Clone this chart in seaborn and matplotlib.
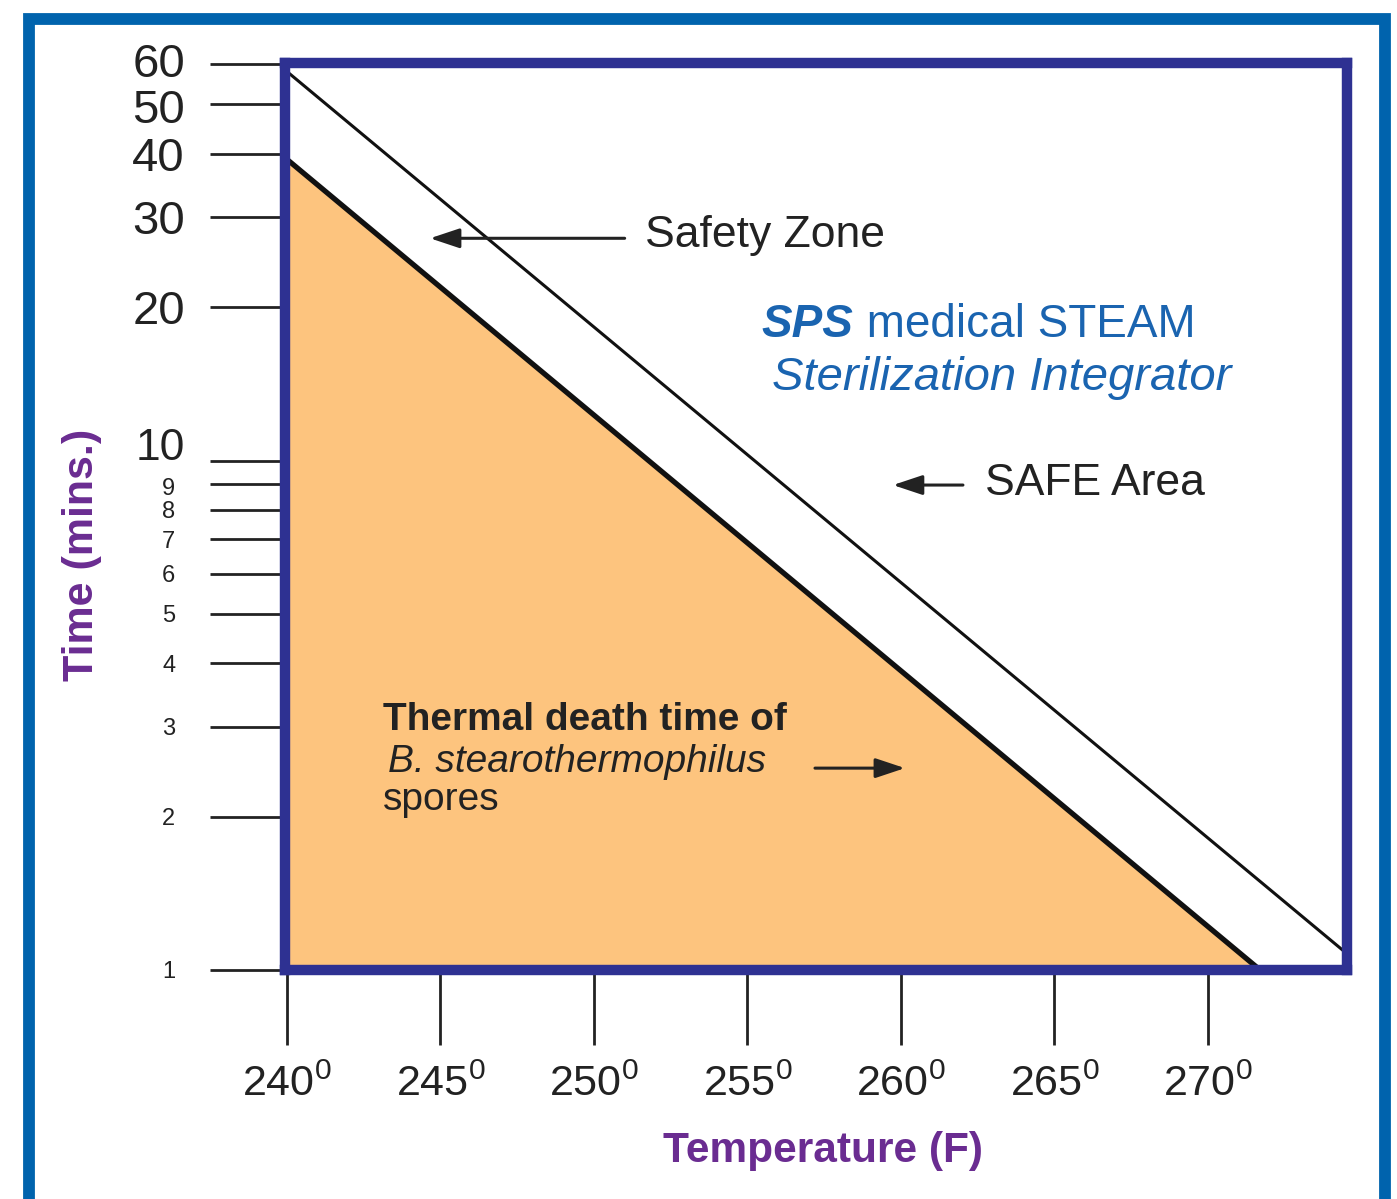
import matplotlib
matplotlib.use("Agg")
import matplotlib.pyplot as plt
import matplotlib.patches as mpatches
import matplotlib.transforms as mtransforms
from matplotlib import font_manager
from matplotlib.ticker import FixedLocator, FixedFormatter, NullFormatter
import pandas as pd
import seaborn as sns

# straight lines on the log chart
temps_safe = [240.0, 274.5]
times_safe = [58.0, 1.08]
temps_tdt = [240.0, 271.7]
times_tdt = [39.0, 1.0]

x_ticks = [240, 245, 250, 255, 260, 265, 270]
y_major = [10, 20, 30, 40, 50, 60]
y_minor = [1, 2, 3, 4, 5, 6, 7, 8, 9]

ORANGE = "#fdc47e"
INDIGO = "#2e3192"
FRAME = "#0063ad"
PURPLE = "#6a2c91"
BLUE = "#1a64b0"
INK = "#222222"

sns.set_style("white")
fonts = {f.name for f in font_manager.fontManager.ttflist}
narrow = "Liberation Sans Narrow" if "Liberation Sans Narrow" in fonts else "Liberation Sans"
plt.rcParams["font.family"] = ["Liberation Sans", "DejaVu Sans"]
plt.rcParams["mathtext.fontset"] = "custom"
plt.rcParams["mathtext.rm"] = narrow
plt.rcParams["mathtext.it"] = narrow + ":italic"
plt.rcParams["mathtext.bf"] = narrow + ":bold"

safe_df = pd.DataFrame({"Temperature": temps_safe, "Time": times_safe})
tdt_df = pd.DataFrame({"Temperature": temps_tdt, "Time": times_tdt})

fig = plt.figure(figsize=(13.97, 11.99), dpi=100)
ax = fig.add_axes([0.2040, 0.1910, 0.7602, 0.7565])
ax.set_yscale("log")

ax.fill_between(tdt_df["Temperature"], tdt_df["Time"], 1, color=ORANGE, linewidth=0, zorder=1)
sns.lineplot(data=tdt_df, x="Temperature", y="Time", sort=False, color="#111111",
             linewidth=3.8, ax=ax, legend=False)
sns.lineplot(data=safe_df, x="Temperature", y="Time", sort=False, color="#111111",
             linewidth=2.2, ax=ax, legend=False)

ax.set_xlim(239.935, 274.53)
ax.set_ylim(1, 60.3)

for side in ["left", "right", "top", "bottom"]:
    ax.spines[side].set_color(INDIGO)
    ax.spines[side].set_linewidth(7.5)

# axis ticks
ax.xaxis.set_major_locator(FixedLocator(x_ticks))
ax.xaxis.set_major_formatter(FixedFormatter([rf"{t}$^{{0}}$" for t in x_ticks]))
ax.xaxis.set_minor_formatter(NullFormatter())
ax.yaxis.set_major_locator(FixedLocator(y_major))
ax.yaxis.set_major_formatter(FixedFormatter([str(v) for v in y_major]))
ax.yaxis.set_minor_locator(FixedLocator(y_minor))
ax.yaxis.set_minor_formatter(FixedFormatter([str(v) for v in y_minor]))

ax.tick_params(axis="x", which="major", bottom=True, direction="out", length=54, width=2,
               color=INK, pad=14, labelsize=31, labelcolor=INK)
ax.tick_params(axis="x", which="minor", bottom=False, length=0)
ax.tick_params(axis="y", which="major", left=True, direction="out", length=54, width=2,
               color=INK, pad=18, labelsize=34, labelcolor=INK)
ax.tick_params(axis="y", which="minor", left=True, direction="out", length=54, width=2,
               color=INK, pad=25, labelsize=17, labelcolor=INK)
for lab in ax.get_xticklabels():
    lab.set_family([narrow, "Liberation Sans", "DejaVu Sans"])

# nudge the crowded labels apart a little
nudges = {"10": 17, "60": 4, "50": -2, "9": -3}
for lab in ax.get_yticklabels() + ax.get_yticklabels(minor=True):
    dy = nudges.get(lab.get_text(), 0)
    if dy:
        lab.set_transform(lab.get_transform() +
                          mtransforms.ScaledTranslation(0, dy / 100, fig.dpi_scale_trans))
    if lab.get_text() == "10":
        lab.set_fontsize(32)

ax.set_xlabel("Temperature (F)", fontsize=30.5, fontweight="bold", color=PURPLE,
              family=[narrow, "Liberation Sans"])
ax.set_ylabel("Time (mins.)", fontsize=31, fontweight="bold", color=PURPLE,
              family=[narrow, "Liberation Sans"])
ax.xaxis.set_label_coords(0.507, -0.178)
ax.yaxis.set_label_coords(-0.172, 0.4576)

# annotations
arrow = dict(arrowstyle="-|>,head_length=0.9,head_width=0.3", color=INK, lw=2.2,
             mutation_scale=20, shrinkA=0, shrinkB=0)
ax.annotate("", xy=(244.66, 27.3), xytext=(251.0, 27.3), arrowprops=arrow)
ax.text(251.66, 27.7, "Safety Zone", fontsize=32, color=INK, va="center", ha="left")

t1 = ax.text(255.47, 18.45, "SPS", fontsize=33, color=BLUE, fontweight="bold",
             fontstyle="italic", va="center", ha="left")
ax.annotate(" medical STEAM", xy=(1, 0.5), xycoords=t1, fontsize=33, color=BLUE,
            va="center", ha="left")
ax.text(255.80, 14.52, "Sterilization Integrator", fontsize=34, color=BLUE,
        fontstyle="italic", va="center", ha="left")

ax.annotate("", xy=(259.74, 8.95), xytext=(262.02, 8.95), arrowprops=arrow)
ax.text(262.74, 9.03, "SAFE Area", fontsize=32, color=INK, va="center", ha="left")

ax.text(243.13, 3.10, "Thermal death time of", fontsize=28, fontweight="bold",
        color=INK, va="center", ha="left")
ax.text(243.30, 2.56, "B. stearothermophilus", fontsize=28, fontstyle="italic",
        color=INK, va="center", ha="left")
ax.text(243.13, 2.16, "spores", fontsize=28, color=INK, va="center", ha="left")
ax.annotate("", xy=(260.13, 2.49), xytext=(257.2, 2.49), arrowprops=arrow)

# outer blue frame of the figure (bottom edge runs off the picture)
fig.patches.append(mpatches.Rectangle((0.0208, -0.0045), 0.9706, 0.9887,
                                      transform=fig.transFigure, fill=False,
                                      edgecolor=FRAME, linewidth=8.5))

fig.savefig("out.png", dpi=100)
plt.close(fig)
